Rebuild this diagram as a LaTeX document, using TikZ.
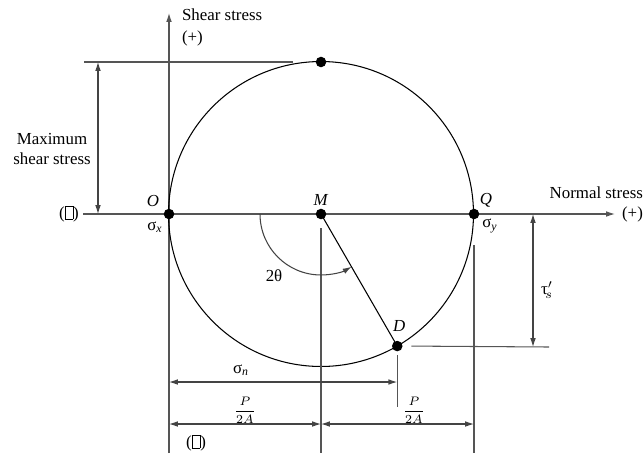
\documentclass[tikz,border=0pt]{standalone}
\usepackage{fontspec}
\setmainfont{Liberation Serif}
\usetikzlibrary{arrows.meta,positioning,calc}
\definecolor{AxisGray}{HTML}{555555}
\definecolor{DimGray}{HTML}{444444}
\newcommand\boxglyph{{\fboxsep0pt\fboxrule0.4pt\fbox{\rule{0pt}{0.72em}\hspace{0.42em}}}}

\begin{document}
\begin{tikzpicture}[
  x=0.02cm,
  y=0.02cm,
  font=\fontsize{9.6}{11.5}\selectfont,
  >={Latex[length=5pt,width=3.2pt]},
  axis/.style={->,draw=AxisGray,line width=0.65pt},
  guide/.style={draw=AxisGray,line width=0.6pt},
  dim/.style={<->,draw=DimGray,line width=0.6pt},
  mohr/.style={draw=black,line width=0.6pt},
  pt/.style={circle,fill=black,inner sep=0pt,minimum size=6pt},
  lbl/.style={inner sep=1pt},
  frac/.style={inner sep=1pt,font=\fontsize{7.4}{8.5}\selectfont}
]
\useasboundingbox (0,0) rectangle (644,454);

% points on the circle
\coordinate (O) at (169,240);
\coordinate (M) at (321,240);
\coordinate (Q) at (474,240);
\coordinate (T) at (321,392);
\coordinate (D) at ($(M)+(-60:152.5)$);

% axes
\coordinate (xl) at (83,240);
\coordinate (xr) at (615,240);
\coordinate (yb) at (169,1);
\coordinate (yt) at (169,441);
\draw[axis] (xl) -- (xr);
\draw[axis] (yb) -- (yt);

\draw[mohr] (M) circle[radius=3.05cm];
\draw[mohr] (M) -- (D);

% guide lines
\coordinate (tl) at (84,392);
\coordinate (tr) at (293,392);
\draw[guide] (tl) -- (tr);
\coordinate (mb) at (321,1);
\draw[guide] ($(M)+(0,-14)$) -- (mb);
\coordinate (qb) at (474,1);
\draw[guide] ($(Q)+(0,-31)$) -- (qb);
\draw[guide] ($(D)+(0,-9)$) -- ($(D)+(0,-61)$);
\coordinate (dr) at (549,107);
\draw[guide] ($(D)+(14,0)$) -- (dr);

% dimensions
\draw[dim] (98,240) -- (98,392);
\draw[dim] (533,240) -- (533,107);
\draw[dim] (169,72) -- (D |- 0,72);
\draw[dim] (169,30) -- (321,30);
\draw[dim] (321,30) -- (474,30);

% 2 theta
\draw[->,draw=DimGray,line width=0.6pt] ($(M)+(180:61)$) arc[start angle=180,end angle=300,radius=1.22cm];

% dots
\node[pt] (Odot) at (O) {};
\node[pt] (Mdot) at (M) {};
\node[pt] (Qdot) at (Q) {};
\node[pt] (Tdot) at (T) {};
\node[pt] (Ddot) at (D) {};

% labels
\node[lbl,anchor=west] (shear) at (180,439) {Shear stress};
\node[lbl,anchor=west] (shearp) at (180,416) {(+)};
\node[lbl,align=center] (maxs) at (52,305) {Maximum\\shear stress};
\node[lbl] (neg) at (69,240) {(\boxglyph)};
\node[lbl] (negb) at (196,11) {(\boxglyph)};
\node[lbl,anchor=east] (normal) at (645,261) {Normal stress};
\node[lbl,anchor=west] (normalp) at (620,240) {(+)};
\node[lbl] (Ol) at (153,253) {\textit{O}};
\node[lbl] (sx) at (155,227) {σ\textsubscript{\itshape x}};
\node[lbl] (Ml) at (321,254) {\textit{M}};
\node[lbl] (Ql) at (486,254) {\textit{Q}};
\node[lbl] (sy) at (490,228) {σ\textsubscript{\itshape y}};
\node[lbl] (Dl) at ($(D)+(2,20)$) {\textit{D}};
\node[lbl] (th) at (274,178) {2θ};
\node[lbl] (ts) at (547,164) {τ$'_{\!s}$};
\node[lbl] (sn) at (241,84) {σ\textsubscript{\itshape n}};
\node[frac] (pa1) at (245,44) {$\displaystyle\frac{P}{2A}$};
\node[frac] (pa2) at (414,44) {$\displaystyle\frac{P}{2A}$};
\end{tikzpicture}
\end{document}
